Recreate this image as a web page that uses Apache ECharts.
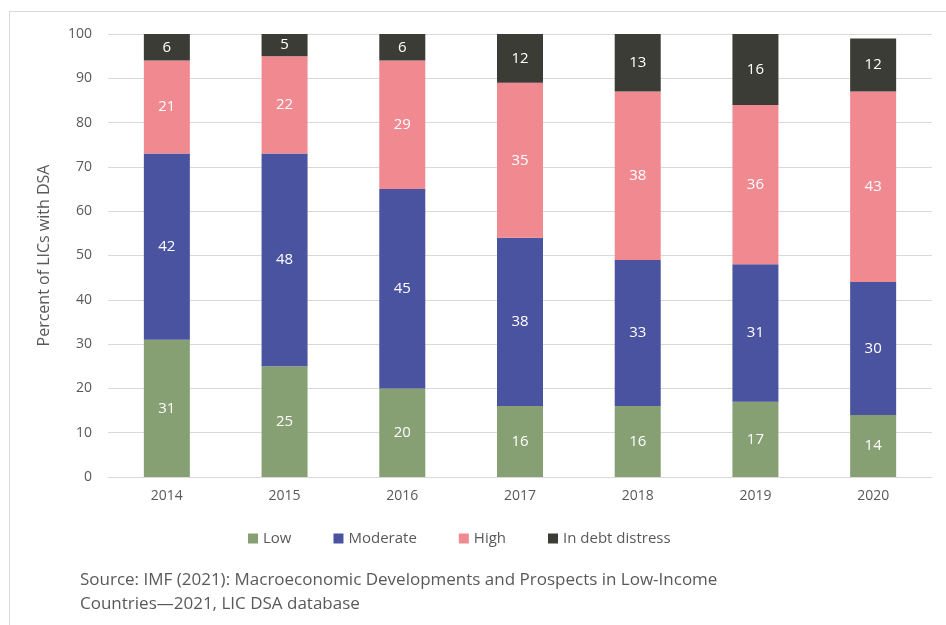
<!DOCTYPE html>
<html>
<head>
<meta charset="utf-8">
<script src="https://cdn.jsdelivr.net/npm/echarts@6/dist/echarts.min.js"></script>
<style>
  html, body { margin: 0; padding: 0; background: #fff; }
  #chart { width: 946px; height: 625px; }
</style>
</head>
<body>
<div id="chart"></div>
<script>
// data
var years = ['2014', '2015', '2016', '2017', '2018', '2019', '2020'];
var low = [31, 25, 20, 16, 16, 17, 14];
var moderate = [42, 48, 45, 38, 33, 31, 30];
var high = [21, 22, 29, 35, 38, 36, 43];
var distress = [6, 5, 6, 12, 13, 16, 12];
var yTicks = [0, 10, 20, 30, 40, 50, 60, 70, 80, 90, 100];

var font = 'Open Sans';
var chart = echarts.init(document.getElementById('chart'));

function barSeries(name, data, color) {
  return {
    name: name,
    type: 'bar',
    stack: 'all',
    barWidth: 46,
    data: data,
    itemStyle: { color: color },
    label: {
      show: true,
      position: 'inside',
      color: '#fff',
      fontFamily: font,
      fontSize: 15
    }
  };
}

var option = {
  animation: false,
  backgroundColor: '#fff',
  textStyle: { fontFamily: font },
  grid: { left: 108, right: 14, top: 34, bottom: 148 },
  legend: {
    bottom: 74,
    left: 243,
    itemWidth: 10,
    itemHeight: 10,
    itemGap: 42,
    icon: 'rect',
    textStyle: { color: '#595959', fontSize: 15, fontFamily: font },
    data: ['Low', 'Moderate', 'High', 'In debt distress']
  },
  xAxis: {
    type: 'category',
    data: years,
    axisTick: { show: false },
    axisLine: { lineStyle: { color: '#d9d9d9' } },
    axisLabel: { color: '#595959', fontSize: 14, margin: 12 }
  },
  yAxis: {
    type: 'value',
    min: yTicks[0],
    max: yTicks[yTicks.length - 1],
    interval: 10,
    name: 'Percent of LICs with DSA',
    nameLocation: 'middle',
    nameGap: 56,
    nameTextStyle: { color: '#595959', fontSize: 16 },
    axisLabel: { color: '#595959', fontSize: 14, margin: 16 },
    splitLine: { lineStyle: { color: '#d9d9d9' } }
  },
  graphic: [
    { type: 'line', shape: { x1: 9.5, y1: 11, x2: 9.5, y2: 625 }, style: { stroke: '#d9d9d9', lineWidth: 1 } },
    { type: 'line', shape: { x1: 9, y1: 11.5, x2: 946, y2: 11.5 }, style: { stroke: '#d9d9d9', lineWidth: 1 } },
    {
      type: 'text',
      left: 80,
      top: 568,
      style: {
        text: 'Source: IMF (2021): Macroeconomic Developments and Prospects in Low-Income\nCountries\u20142021, LIC DSA database',
        fill: '#595959',
        font: '17px "Open Sans"',
        lineHeight: 24
      }
    }
  ],
  series: [
    barSeries('Low', low, '#86a073'),
    barSeries('Moderate', moderate, '#4a53a0'),
    barSeries('High', high, '#f08a90'),
    barSeries('In debt distress', distress, '#3c3c36')
  ]
};
chart.setOption(option);
</script>
</body>
</html>
